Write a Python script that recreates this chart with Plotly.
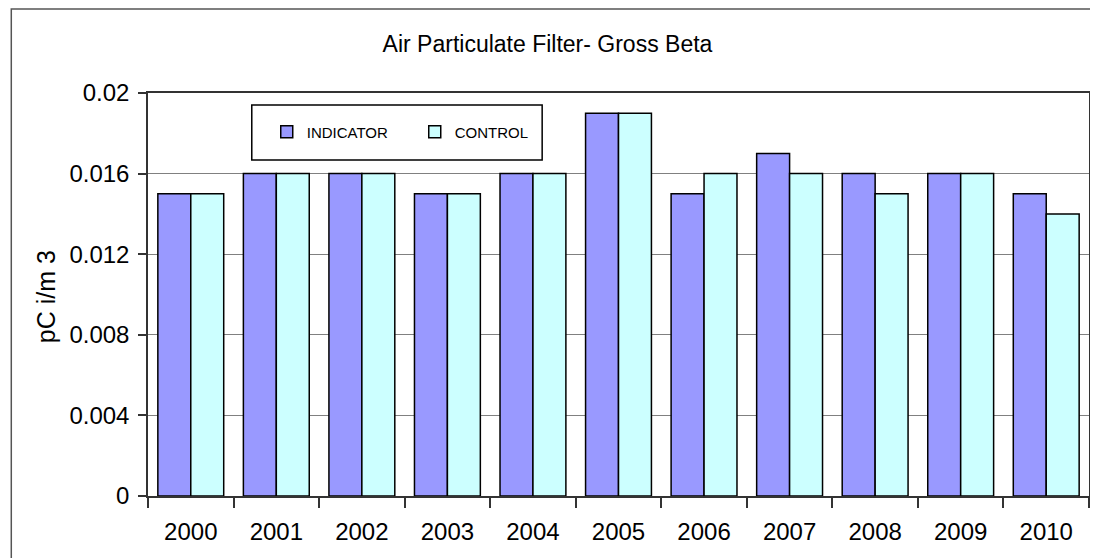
import plotly.graph_objects as go

years = ["2000", "2001", "2002", "2003", "2004", "2005", "2006", "2007", "2008", "2009", "2010"]
indicator = [0.015, 0.016, 0.016, 0.015, 0.016, 0.019, 0.015, 0.017, 0.016, 0.016, 0.015]
control = [0.015, 0.016, 0.016, 0.015, 0.016, 0.019, 0.016, 0.016, 0.015, 0.016, 0.014]
y_ticks = [0, 0.004, 0.008, 0.012, 0.016, 0.02]
y_ticktext = ["0", "0.004", "0.008", "0.012", "0.016", "0.02"]

FONT = "Liberation Sans, Arial, sans-serif"

# the page body adds an 8px offset; lay out in reference pixel coordinates
OFF = 8
W, H = 1098 - OFF, 558 - OFF
L, R, T, B = 148 - OFF, 7, 93 - OFF, 62
pw, ph = W - L - R, H - T - B

def px(x):
    return (x - OFF - L) / pw

def py(y):
    return 1 - (y - OFF - T) / ph

fig = go.Figure()
fig.add_trace(go.Bar(x=years, y=indicator, name="INDICATOR",
                     marker=dict(color="#9999FF", line=dict(color="#000000", width=1.5))))
fig.add_trace(go.Bar(x=years, y=control, name="CONTROL",
                     marker=dict(color="#CCFFFF", line=dict(color="#000000", width=1.5))))

fig.update_layout(
    width=W, height=H,
    margin=dict(l=L, r=R, t=T, b=B),
    paper_bgcolor="white", plot_bgcolor="white",
    font=dict(family=FONT, color="#000000"),
    barmode="group", bargap=0.23, bargroupgap=0,
    title=dict(text="Air Particulate Filter- Gross Beta", x=(547.5 - OFF) / W, xref="container",
               y=1 - (44 - OFF) / H, yref="container", xanchor="center", yanchor="middle",
               font=dict(family=FONT, size=23, color="#000000")),
    showlegend=True,
    legend=dict(orientation="h", x=px(267), y=py(132), xanchor="left", yanchor="middle",
                bgcolor="rgba(0,0,0,0)", borderwidth=0,
                font=dict(family=FONT, size=15, color="#000000"),
                entrywidth=103, entrywidthmode="pixels"),
    xaxis=dict(type="category", showline=True, mirror=True, linecolor="#333333", linewidth=1.5,
               ticks="outside", tickson="boundaries", ticklen=10, tickcolor="#333333", tickwidth=1.5,
               tickfont=dict(family=FONT, size=24, color="#000000"), showgrid=False,
               ticklabelstandoff=13),
    yaxis=dict(range=[0, 0.02], tickvals=y_ticks, ticktext=y_ticktext,
               showline=True, mirror=True, linecolor="#333333", linewidth=1.5,
               ticks="outside", ticklen=8, tickcolor="#333333", tickwidth=1.5,
               tickfont=dict(family=FONT, size=24, color="#000000"),
               showgrid=True, gridcolor="#808080", gridwidth=1, zeroline=False,
               ticklabelstandoff=4),
    shapes=[
        dict(type="rect", xref="paper", yref="paper", x0=px(11), x1=px(1095.5), y0=py(600), y1=py(9),
             line=dict(color="#555555", width=1.5), fillcolor="rgba(0,0,0,0)", layer="above"),
        dict(type="rect", xref="paper", yref="paper", x0=px(252), x1=px(543), y0=py(160), y1=py(105),
             line=dict(color="#000000", width=1.5), fillcolor="white", layer="below"),
    ],
    annotations=[
        dict(text="pC i/m 3", xref="paper", yref="paper", x=px(46), y=py(297), textangle=-90,
             showarrow=False, xanchor="center", yanchor="middle",
             font=dict(family=FONT, size=25, color="#000000")),
    ],
)

fig.write_html("out.html")
